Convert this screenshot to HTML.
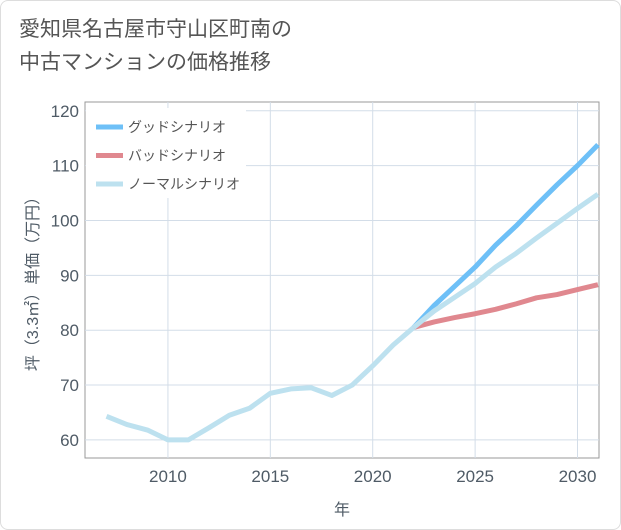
<!DOCTYPE html>
<html><head><meta charset="utf-8">
<style>
body{margin:0;background:#fff;font-family:"Liberation Sans","Noto Sans CJK JP",sans-serif;}
#wrap{position:relative;width:619px;height:528px;border:1px solid #ddd;border-radius:8px;overflow:hidden;background:#fff}
#title{position:absolute;left:18px;top:12px;font-size:21px;line-height:33px;color:#555;}
svg{position:absolute;left:0;top:0}
</style></head><body>
<div id="wrap">
<div id="title">愛知県名古屋市守山区町南の<br>中古マンションの価格推移</div>
<svg id="chart" width="621" height="530"></svg>
</div>
<script>
const years=[2007,2008,2009,2010,2011,2012,2013,2014,2015,2016,2017,2018,2019,2020,2021,2022];
const history=[64.3,62.8,61.8,60,60,62.2,64.5,65.8,68.5,69.3,69.5,68.1,70,73.5,77.3,80.5];
const futureYears=[2022,2023,2024,2025,2026,2027,2028,2029,2030,2031];
const good=[80.5,84.5,88,91.5,95.5,99,102.8,106.5,110,113.8];
const bad=[80.5,81.5,82.3,83,83.8,84.8,85.9,86.5,87.4,88.3];
const normal=[80.5,83.5,86,88.5,91.5,94,96.8,99.5,102.2,104.8];
const xTicks=[2010,2015,2020,2025,2030];
const yTicks=[60,70,80,90,100,110,120];
const L=84,R=598,T=101,B=457,x0=2005.95,x1=2031.05,y0=56.7,y1=121.6;
const X=v=>L+(v-x0)/(x1-x0)*(R-L);
const Y=v=>B-(v-y0)/(y1-y0)*(B-T);
const svg=document.getElementById('chart');
const NS='http://www.w3.org/2000/svg';
function mk(t,a){const e=document.createElementNS(NS,t);for(const k in a)e.setAttribute(k,a[k]);svg.appendChild(e);return e;}
const bg=mk('rect',{x:L,y:T,width:R-L,height:B-T,fill:'#fff',stroke:'#999','stroke-width':1});


xTicks.forEach(v=>{
 const g=mk('line',{x1:X(v),x2:X(v),y1:T,y2:B,stroke:'#d3dde8','stroke-width':1});
 
 
 const t=mk('text',{x:X(v),y:B+24,'text-anchor':'middle','font-size':17,fill:'#4f5b66'});
 t.textContent=v;
 
 
});
yTicks.forEach(v=>{
 const g=mk('line',{x1:L,x2:R,y1:Y(v),y2:Y(v),stroke:'#d3dde8','stroke-width':1});
 
 
 const t=mk('text',{x:L-6,y:Y(v)+6,'text-anchor':'end','font-size':17,fill:'#4f5b66'});
 t.textContent=v;
 
 
});
function line(xs,ys,color,name){
 const p=mk('polyline',{points:xs.map((x,i)=>X(x)+','+Y(ys[i])).join(' '),fill:'none',stroke:color,'stroke-width':5,'stroke-linejoin':'round'});
 
 
}
line(futureYears,bad,'#e0888f','bad-scenario-line');
line(futureYears,good,'#6ec0f7','good-scenario-line');
line(futureYears,normal,'#bde1ef','normal-scenario-line');
line(years,history,'#bde1ef','history-line');
const lg=mk('rect',{x:L+1,y:T+6,width:160,height:90,fill:'#fff'});


[['グッドシナリオ','#6ec0f7'],['バッドシナリオ','#e0888f'],['ノーマルシナリオ','#bde1ef']].forEach((d,i)=>{
 const y=126+i*28.5;
 const s=mk('line',{x1:95,x2:122,y1:y,y2:y,stroke:d[1],'stroke-width':5});
 
 
 const t=mk('text',{x:127,y:y+5,'font-size':14,fill:'#555'});
 t.textContent=d[0];
 
 
});
const xt=mk('text',{x:(L+R)/2,y:514,'text-anchor':'middle','font-size':16,fill:'#4f5b66'});
xt.textContent='年';


const yt=mk('text',{x:0,y:0,'text-anchor':'middle','font-size':16,fill:'#4f5b66',transform:'translate(37,'+((T+B)/2)+') rotate(-90)'});
yt.textContent='坪（3.3㎡）単価（万円）';


</script>
</body></html>
